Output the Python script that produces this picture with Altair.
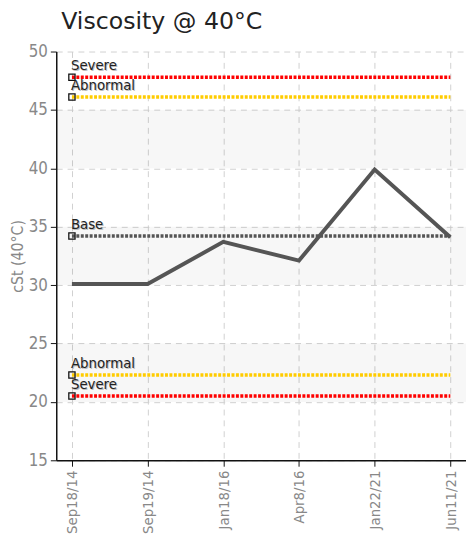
import altair as alt
import pandas as pd

dates = ["Sep18/14", "Sep19/14", "Jan18/16", "Apr8/16", "Jan22/21", "Jun11/21"]
viscosity = [30.1, 30.1, 33.7, 32.1, 39.9, 34.1]

limit_names = ["Severe", "Abnormal", "Base", "Abnormal", "Severe"]
limit_values = [47.8, 46.1, 34.2, 22.3, 20.5]
limit_colors = ["#ff0000", "#ffcc00", "#555555", "#ffcc00", "#ff0000"]

band_lo = [40, 30, 20]
band_hi = [45, 35, 25]

y_ticks = [15, 20, 25, 30, 35, 40, 45, 50]

FONT = "DejaVu Sans Condensed, Liberation Sans Narrow, Roboto, sans-serif"

W, H = 416, 415

line_df = pd.DataFrame({"date": dates, "cst": viscosity})
lim_rows = []
for i, (n, v, c) in enumerate(zip(limit_names, limit_values, limit_colors)):
    for d in dates:
        lim_rows.append({"id": i, "name": n, "value": v, "color": c, "date": d})
lim_df = pd.DataFrame(lim_rows)
lab_df = pd.DataFrame({"name": limit_names, "value": limit_values, "date": [dates[0]] * len(limit_names)})
band_df = pd.DataFrame({"lo": band_lo, "hi": band_hi})

xscale = alt.Scale(type="point", padding=0.207)
yscale = alt.Scale(domain=[15, 50], nice=False, zero=False)

xenc = alt.X("date:N", sort=dates, scale=xscale, title=None,
             axis=alt.Axis(labelAngle=-90, labelAlign="right", labelBaseline="middle",
                           labelFont=FONT, labelFontSize=15, labelColor="#888",
                           tickColor="#111", tickSize=6, domainColor="#111", domainWidth=1.5,
                           grid=True, gridDash=[6, 5], gridColor="#d0d0d0", labelPadding=4))
yenc_axis = alt.Axis(values=y_ticks, labelFont=FONT, labelFontSize=17, labelColor="#888",
                     tickColor="#111", tickSize=6, domainColor="#111", domainWidth=1.5,
                     grid=True, gridDash=[6, 5], gridColor="#d0d0d0", labelPadding=3,
                     title="cSt (40°C)", titleFont=FONT, titleFontSize=16, titleColor="#888",
                     titleFontWeight="normal", titlePadding=3)

bands = alt.Chart(band_df).mark_rect(color="#000000", opacity=0.03).encode(
    x=alt.value(0), x2=alt.value(W),
    y=alt.Y("lo:Q", scale=yscale, axis=yenc_axis), y2="hi:Q")

limits = alt.Chart(lim_df).mark_line(strokeDash=[3, 1.5], strokeWidth=3.5).encode(
    x=xenc, y=alt.Y("value:Q", scale=yscale),
    detail="id:N", color=alt.Color("color:N", scale=None))

main = alt.Chart(line_df).mark_line(color="#555555", strokeWidth=4).encode(
    x=xenc, y=alt.Y("cst:Q", scale=yscale))

squares = alt.Chart(lab_df).mark_point(shape="square", filled=False, color="#111", size=40,
                                       strokeWidth=1.3, opacity=1).encode(
    x=xenc, y=alt.Y("value:Q", scale=yscale))

shadow = alt.Chart(lab_df).mark_text(align="left", baseline="bottom", dx=0, dy=-3, font=FONT,
                                     fontSize=15, color="#bbbbbb").encode(
    x=xenc, y=alt.Y("value:Q", scale=yscale), text="name:N")
labels = alt.Chart(lab_df).mark_text(align="left", baseline="bottom", dx=-1, dy=-4, font=FONT,
                                     fontSize=15, color="#222").encode(
    x=xenc, y=alt.Y("value:Q", scale=yscale), text="name:N")

chart = alt.layer(bands, limits, main, squares, shadow, labels).properties(
    width=W, height=H,
    autosize=alt.AutoSizeParams(type="none"),
    padding={"left": 49, "top": 40, "right": 0, "bottom": 95},
    title=alt.Title("Viscosity @ 40°C", anchor="start", frame="group", font="DejaVu Sans",
                    fontSize=24, fontWeight="normal", color="#222", offset=9, dx=5),
).configure_view(stroke=None)

chart.save("out.html", embed_options={"renderer": "svg", "actions": False})
